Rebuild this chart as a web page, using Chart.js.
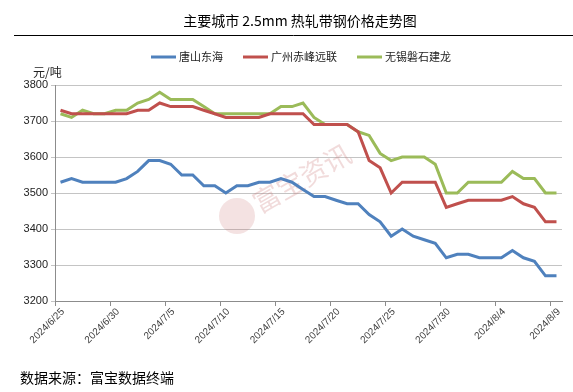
<!DOCTYPE html>
<html>
<head>
<meta charset="utf-8">
<script src="https://cdn.jsdelivr.net/npm/chart.js@4.4.1/dist/chart.umd.min.js"></script>
<style>
    html, body { margin: 0; padding: 0; background: #fff; }
    #wrap { width: 573px; height: 392px; position: relative; }
</style>
</head>
<body>
<div id="wrap"><canvas id="priceChart" width="573" height="392"></canvas></div>
<script>
// 日期（每日一个点）
const days = [
    '6/25', '6/26', '6/27', '6/28', '6/29', '6/30', '7/1', '7/2', '7/3', '7/4',
    '7/5', '7/6', '7/7', '7/8', '7/9', '7/10', '7/11', '7/12', '7/13', '7/14',
    '7/15', '7/16', '7/17', '7/18', '7/19', '7/20', '7/21', '7/22', '7/23', '7/24',
    '7/25', '7/26', '7/27', '7/28', '7/29', '7/30', '7/31', '8/1', '8/2', '8/3',
    '8/4', '8/5', '8/6', '8/7', '8/8', '8/9'
];
// 横轴刻度标签（每5天）
const tickLabels = ['2024/6/25', '2024/6/30', '2024/7/5', '2024/7/10', '2024/7/15',
    '2024/7/20', '2024/7/25', '2024/7/30', '2024/8/4', '2024/8/9'];

const seriesNames = ['唐山东海', '广州赤峰远联', '无锡磐石建龙'];

const tangshan = [
    3530, 3540, 3530, 3530, 3530, 3530, 3540, 3560, 3590, 3590,
    3580, 3550, 3550, 3520, 3520, 3500, 3520, 3520, 3530, 3530,
    3540, 3530, 3510, 3490, 3490, 3480, 3470, 3470, 3440, 3420,
    3380, 3400, 3380, 3370, 3360, 3320, 3330, 3330, 3320, 3320,
    3320, 3340, 3320, 3310, 3270, 3270
];
const guangzhou = [
    3730, 3720, 3720, 3720, 3720, 3720, 3720, 3730, 3730, 3750,
    3740, 3740, 3740, 3730, 3720, 3710, 3710, 3710, 3710, 3720,
    3720, 3720, 3720, 3690, 3690, 3690, 3690, 3670, 3590, 3570,
    3500, 3530, 3530, 3530, 3530, 3460, 3470, 3480, 3480, 3480,
    3480, 3490, 3470, 3460, 3420, 3420
];
const wuxi = [
    3720, 3710, 3730, 3720, 3720, 3730, 3730, 3750, 3760, 3780,
    3760, 3760, 3760, 3740, 3720, 3720, 3720, 3720, 3720, 3720,
    3740, 3740, 3750, 3710, 3690, 3690, 3690, 3670, 3660, 3610,
    3590, 3600, 3600, 3600, 3580, 3500, 3500, 3530, 3530, 3530,
    3530, 3560, 3540, 3540, 3500, 3500
];

const colors = ['#4F81BD', '#C0504D', '#9BBB59'];

// 点放在每天的格子中间
function toPoints(values) {
    return values.map((v, i) => ({ x: i + 0.5, y: v }));
}

// 标题、图例、单位、来源、水印
const decorPlugin = {
    id: 'decor',
    beforeDatasetsDraw(chart) {
        const ctx = chart.ctx;
        ctx.save();
        ctx.fillStyle = 'rgba(200, 110, 110, 0.2)';
        ctx.beginPath();
        ctx.arc(237, 216, 18, 0, Math.PI * 2);
        ctx.fill();
        ctx.fillStyle = 'rgba(200, 110, 110, 0.25)';
        ctx.translate(260, 214);
        ctx.rotate(-0.52);
        ctx.font = '27px "Noto Sans CJK SC"';
        ctx.textBaseline = 'alphabetic';
        ctx.fillText('富宝资讯', 0, 0);
        ctx.restore();
    },
    afterDraw(chart) {
        const ctx = chart.ctx;
        ctx.save();
        // 标题
        ctx.fillStyle = '#000';
        ctx.font = '14px "Noto Sans CJK SC"';
        ctx.textAlign = 'center';
        ctx.textBaseline = 'middle';
        ctx.fillText('主要城市 2.5mm 热轧带钢价格走势图', 300, 21);
        // 标题下横线
        ctx.strokeStyle = '#000';
        ctx.lineWidth = 1;
        ctx.beginPath();
        ctx.moveTo(14, 35.5);
        ctx.lineTo(573, 35.5);
        ctx.stroke();
        // 图例
        ctx.font = '11px "Noto Sans CJK SC"';
        ctx.textAlign = 'left';
        const lineLen = 25, gap = 3, spacing = 20;
        const widths = chart.data.datasets.map(ds => lineLen + gap + ctx.measureText(ds.label).width);
        const total = widths.reduce((a, b) => a + b, 0) + spacing * (widths.length - 1);
        let x = 301 - total / 2;
        const ly = 57;
        chart.data.datasets.forEach((ds, i) => {
            ctx.strokeStyle = ds.borderColor;
            ctx.lineWidth = 3;
            ctx.beginPath();
            ctx.moveTo(x, ly);
            ctx.lineTo(x + lineLen, ly);
            ctx.stroke();
            ctx.fillStyle = '#222';
            ctx.fillText(ds.label, x + lineLen + gap, ly);
            x += widths[i] + spacing;
        });
        // 单位
        ctx.font = '12px "Noto Sans CJK SC"';
        ctx.fillStyle = '#222';
        ctx.fillText('元/吨', 33, 72);
        // 数据来源
        ctx.font = '14px "Noto Sans CJK SC"';
        ctx.fillStyle = '#000';
        ctx.fillText('数据来源：富宝数据终端', 20, 378);
        ctx.restore();
    }
};

new Chart(document.getElementById('priceChart'), {
    type: 'line',
    data: {
        datasets: [
            { label: seriesNames[0], data: toPoints(tangshan), borderColor: colors[0] },
            { label: seriesNames[1], data: toPoints(guangzhou), borderColor: colors[1] },
            { label: seriesNames[2], data: toPoints(wuxi), borderColor: colors[2] }
        ]
    },
    options: {
        responsive: false,
        animation: false,
        devicePixelRatio: 1,
        layout: {
            padding: { top: 85, left: 0, right: 11, bottom: 41 }
        },
        elements: {
            line: { borderWidth: 3, tension: 0 },
            point: { radius: 0 }
        },
        plugins: {
            legend: { display: false },
            title: { display: false },
            tooltip: { enabled: false }
        },
        scales: {
            x: {
                type: 'linear',
                min: 0,
                max: days.length,
                afterFit(scale) { scale.height = 50; },
                border: { color: '#8C8C8C', width: 1 },
                grid: {
                    drawOnChartArea: false,
                    drawTicks: true,
                    tickLength: 5,
                    color: '#8C8C8C'
                },
                ticks: {
                    stepSize: 5,
                    includeBounds: false,
                    autoSkip: false,
                    minRotation: 45,
                    maxRotation: 45,
                    labelOffset: 8,
                    padding: 0,
                    color: '#404040',
                    font: { family: 'Liberation Sans', size: 10 },
                    callback: (value) => value % 5 === 0 ? tickLabels[value / 5] : ''
                }
            },
            y: {
                min: 3200,
                max: 3800,
                afterFit(scale) { scale.width = 55; },
                border: { color: '#8C8C8C', width: 1 },
                grid: {
                    color: '#C4C4C4',
                    drawTicks: true,
                    tickLength: 4
                },
                ticks: {
                    stepSize: 100,
                    padding: 3,
                    color: '#222',
                    font: { family: 'Liberation Sans', size: 11 },
                    callback: (value) => String(value)
                }
            }
        }
    },
    plugins: [decorPlugin]
});
</script>
</body>
</html>
